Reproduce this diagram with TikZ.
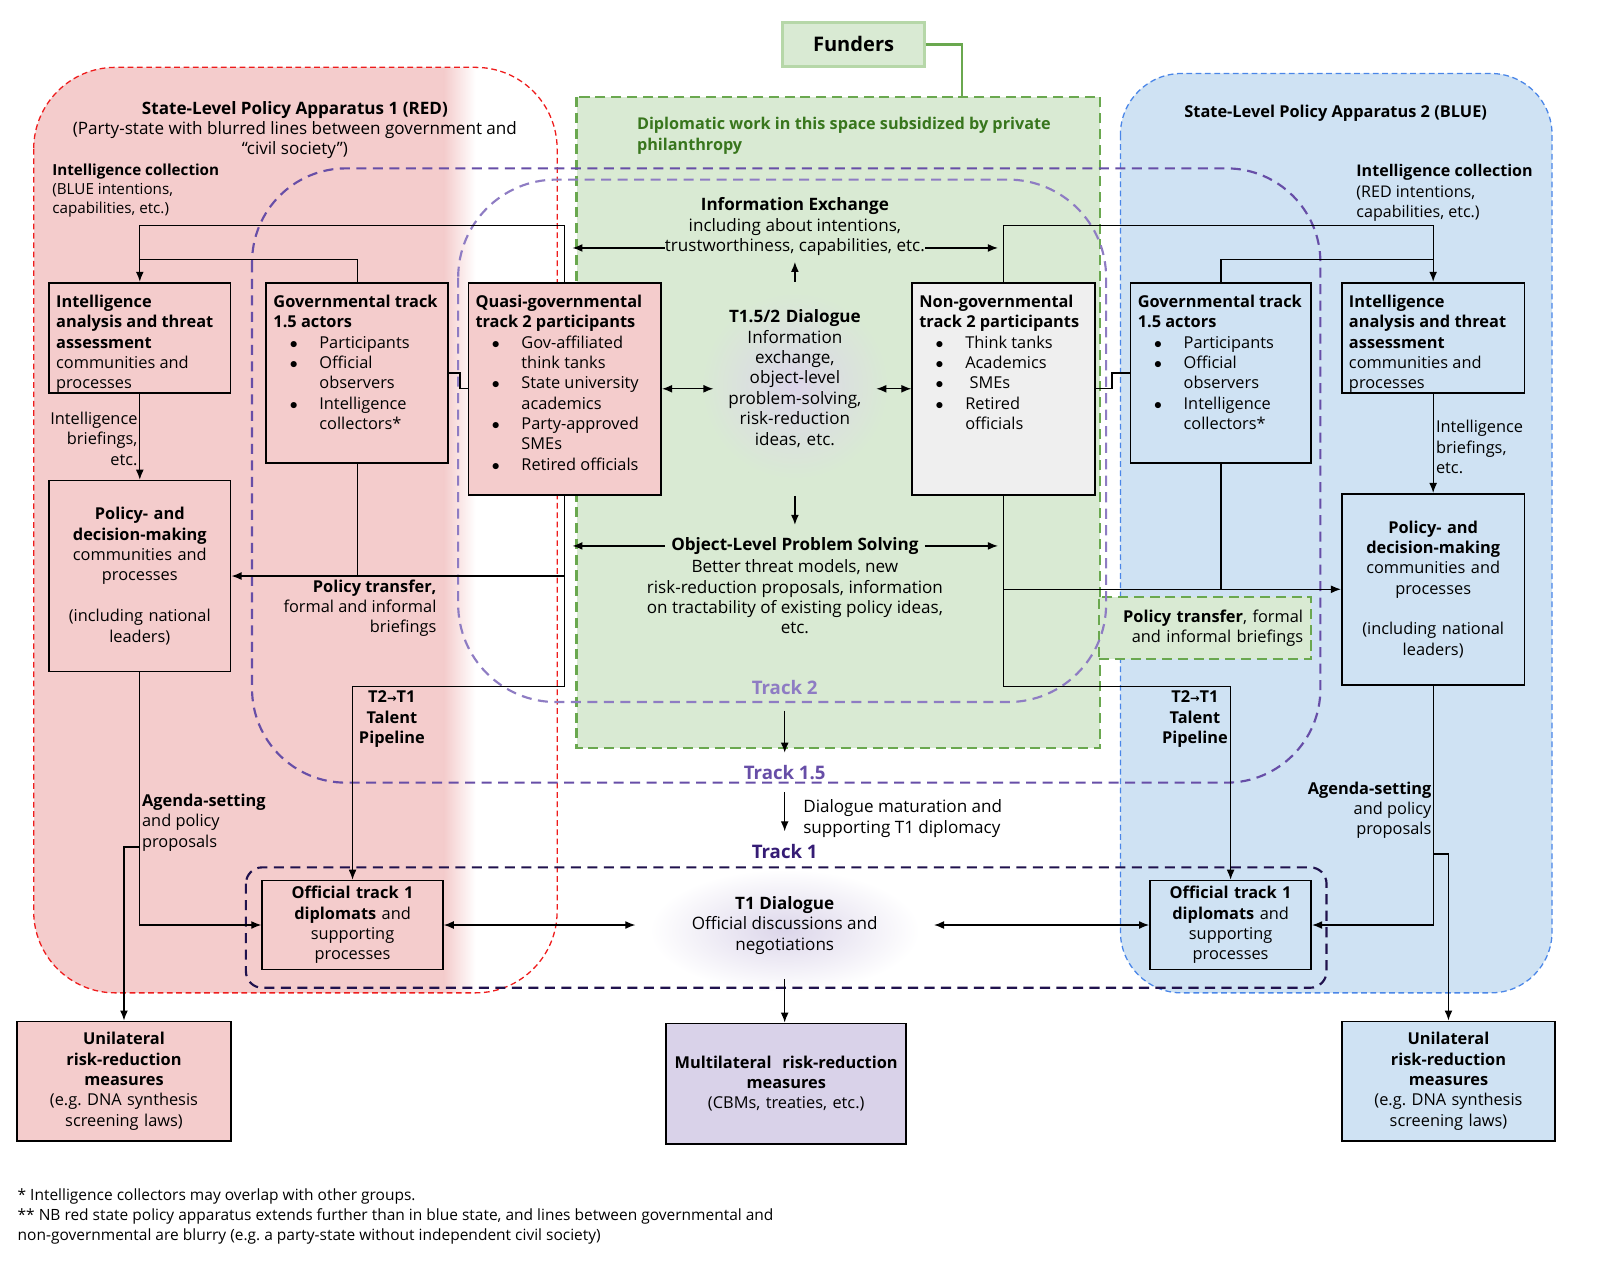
\documentclass[tikz,border=0pt]{standalone}
\usepackage{fontspec}
\setmainfont{Open Sans}
\newfontfamily\arrowfont{DejaVu Sans}
\usetikzlibrary{arrows.meta}

\definecolor{redfill}{HTML}{F4CCCC}
\definecolor{bluefill}{HTML}{CFE2F3}
\definecolor{greenfill}{HTML}{D9EAD3}
\definecolor{greenline}{HTML}{6AA84F}
\definecolor{greentext}{HTML}{38761D}
\definecolor{fundline}{HTML}{B6D7A8}
\definecolor{redline}{HTML}{EE1C1C}
\definecolor{blueline}{HTML}{4A86E8}
\definecolor{trackii}{HTML}{8E7CC3}
\definecolor{trackmid}{HTML}{674EA7}
\definecolor{tracki}{HTML}{20124D}
\definecolor{trackitext}{HTML}{351C75}
\definecolor{lavfill}{HTML}{D9D2E9}
\definecolor{ngfill}{HTML}{EFEFEF}
\definecolor{glow}{HTML}{DCD6EA}

\newlength\dpx
\setlength\dpx{0.025cm}
% top aligned box text
\newcommand{\boxbody}[3]{\parbox[c][#2\dpx][t]{#1\dpx}{\raggedright\parskip=0pt #3}}
\newcommand{\itm}{\par\noindent\llap{\makebox[29\dpx][l]{$\bullet$}}}
\newcommand{\blist}[1]{{\par\leftskip=45\dpx #1\par}}

\tikzset{
  tbox/.style={draw, line width=1.2pt, inner xsep=0.175cm, inner ysep=0.3cm},
  cbox/.style={draw, line width=1.2pt, inner xsep=0.2cm, align=center},
  conn/.style={line width=0.9pt},
  arr/.style={conn, -{Latex[length=7pt,width=5.5pt]}},
  darr/.style={conn, {Latex[length=7pt,width=5.5pt]}-{Latex[length=7pt,width=5.5pt]}},
  regionred/.style={draw=redline, line width=0.9pt, dash pattern=on 4pt off 2.5pt, rounded corners=2cm},
  regionblue/.style={draw=blueline, line width=0.9pt, dash pattern=on 4pt off 2.5pt, rounded corners=1.5cm},
  philbox/.style={draw=greenline, line width=1.5pt, dash pattern=on 7pt off 4pt},
  ptbox/.style={draw=greenline, fill=greenfill, line width=1.5pt, dash pattern=on 7pt off 4pt, inner xsep=0.2cm, align=right},
  trackline/.style={line width=1.5pt, dash pattern=on 7pt off 4.5pt},
  tracklab/.style={font=\fontsize{13}{15}\selectfont\bfseries},
  boldlab/.style={font=\fontsize{11.4}{14.2}\selectfont\bfseries, align=center},
  widetxt/.style={font=\fontsize{11.9}{14.2}\selectfont},
}

\begin{document}
\begin{tikzpicture}[x=0.025cm, y=-0.025cm, font=\fontsize{11.4}{14.2}\selectfont,
    every node/.append style={inner sep=0pt}]
  \useasboundingbox (0,0) rectangle (1568,1251);

  % Regions
  \begin{scope}
    \clip[rounded corners=2cm] (33,66) rectangle (546,973);
    \fill[redfill] (33,66) rectangle (435,973);
    \shade[left color=redfill, right color=white] (435,66) rectangle (466,973);
  \end{scope}
  \draw[regionred] (33,66) rectangle (546,973);
  \draw[regionblue, fill=bluefill] (1098,72) rectangle (1521,973);
  \draw[philbox, fill=greenfill] (565,95) rectangle (1078,733);

  \shade[inner color=glow, outer color=greenfill] (779,378) circle [radius=2.3cm];
  \shade[inner color=glow, outer color=white] (769,912) ellipse [x radius=3.3cm, y radius=1.5cm];

  \node[ptbox, text width=4.8cm, minimum height=1.525cm] (bpt) at (1181,615.5) {\textbf{Policy transfer}, formal\\and informal briefings};

  % Tracks
  \draw[trackline, draw=trackii, rounded corners=2.4cm] (449,176) rectangle (1084,688);
  \draw[trackline, draw=trackmid, rounded corners=2.3cm] (247,165) rectangle (1294,767);
  \draw[trackline, draw=tracki, rounded corners=0.4cm] (241,850) rectangle (1300,968);

  % Nodes
  \node[draw=fundline, line width=1.8pt, fill=greenfill, minimum width=3.475cm, minimum height=1.075cm,
    font=\fontsize{14}{16}\selectfont\bfseries] (funders) at (836.5,43.5) {Funders};

  \node[tbox, fill=redfill] (rintel) at (137,331) {\boxbody{164}{84}{\textbf{Intelligence\\analysis and threat\\assessment}\\communities and\\processes}};
  \node[tbox, fill=redfill] (rgov) at (350,365.5) {\boxbody{164}{153}{\textbf{Governmental track\\1.5 actors}\blist{\itm Participants\itm Official\\observers\itm Intelligence\\collectors*}}};
  \node[tbox, fill=redfill] (rquasi) at (553.5,381) {\boxbody{175}{184}{\textbf{Quasi-governmental\\track 2 participants}\blist{\itm Gov-affiliated\\think tanks\itm State university\\academics\itm Party-approved\\SMEs\itm Retired officials}}};
  \node[cbox, fill=redfill, text width=4.05cm, minimum height=4.675cm] (rpolicy) at (137,564.5) {\textbf{Policy- and\\decision-making}\\communities and\\processes\\[14.2pt](including national\\leaders)};
  \node[cbox, fill=redfill, text width=4.025cm, minimum height=2.175cm] (roff) at (345.5,906.5) {\textbf{Official track 1\\diplomats} and\\supporting\\processes};
  \node[cbox, fill=redfill, text width=4.825cm, minimum height=2.925cm] (runi) at (121.5,1059.5) {\textbf{Unilateral\\risk-reduction\\measures}\\(e.g.\ DNA synthesis\\screening laws)};

  \node[tbox, fill=ngfill] (nongov) at (983.5,381) {\boxbody{165}{184}{\textbf{Non-governmental\\track 2 participants}\blist{\itm Think tanks\itm Academics\itm\ SMEs\itm Retired\\officials}}};

  \node[tbox, fill=bluefill] (bgov) at (1196.5,365.5) {\boxbody{163}{153}{\textbf{Governmental track\\1.5 actors}\blist{\itm Participants\itm Official\\observers\itm Intelligence\\collectors*}}};
  \node[tbox, fill=bluefill] (bintel) at (1404.5,331) {\boxbody{165}{84}{\textbf{Intelligence\\analysis and threat\\assessment}\\communities and\\processes}};
  \node[cbox, fill=bluefill, text width=4.075cm, minimum height=4.675cm] (bpolicy) at (1404.5,577.5) {\textbf{Policy- and\\decision-making}\\communities and\\processes\\[14.2pt](including national\\leaders)};
  \node[cbox, fill=bluefill, text width=3.55cm, minimum height=2.175cm] (boff) at (1206,906.5) {\textbf{Official track 1\\diplomats} and\\supporting\\processes};
  \node[cbox, fill=bluefill, text width=4.825cm, minimum height=2.925cm] (buni) at (1419.5,1059.5) {\textbf{Unilateral\\risk-reduction\\measures}\\(e.g.\ DNA synthesis\\screening laws)};

  \node[cbox, fill=lavfill, inner xsep=0.1cm, text width=5.675cm, minimum height=2.95cm] (multi) at (770.5,1062) {\textbf{Multilateral~ risk-reduction\\measures}\\(CBMs, treaties, etc.)};

  % Centre texts
  \node[widetxt, align=center, inner ysep=0.15cm] (infox) at (779,222) {\textbf{Information Exchange}\\including about intentions,\\trustworthiness, capabilities, etc.};
  \node[widetxt, align=center, text width=3.625cm, inner sep=0.175cm] (dlg) at (779,371) {\textbf{T1.5/2 Dialogue}\\Information\\exchange,\\object-level\\problem-solving,\\risk-reduction\\ideas, etc.};
  \node[widetxt, inner xsep=0.15cm, inner ysep=0.3cm] (objt) at (779,535) {\textbf{Object-Level Problem Solving}};
  \node[widetxt, align=center] (objb) at (779,585) {Better threat models, new\\risk-reduction proposals, information\\on tractability of existing policy ideas,\\etc.};
  \node[widetxt, align=center, minimum width=7.3cm, minimum height=2.6cm] (t1d) at (769,907) {\textbf{T1 Dialogue}\\Official discussions and\\negotiations};

  \node[tracklab, text=trackii, inner ysep=0.38cm] (t2lab) at (769,674) {Track 2};
  \node[tracklab, text=trackmid, inner ysep=0.3cm] (t15lab) at (769,757) {Track 1.5};
  \node[tracklab, text=trackitext, inner ysep=0.3cm] (t1lab) at (769,834) {Track 1};
  \node[widetxt, align=left, anchor=west] (dmat) at (787,802) {Dialogue maturation and\\supporting T1 diplomacy};

  % Labels
  \node[widetxt, align=center] (rtitle) at (289,127.5) {\textbf{State-Level Policy Apparatus 1 (RED)}\\(Party-state with blurred lines between government and\\“civil society”)};
  \node[font=\fontsize{11.4}{14.2}\selectfont\bfseries] (btitle) at (1309,111) {State-Level Policy Apparatus 2 (BLUE)};
  \node[align=left, anchor=west, font=\fontsize{10.6}{13.1}\selectfont] (rcoll) at (51,187) {\textbf{Intelligence collection}\\(BLUE intentions,\\capabilities, etc.)};
  \node[align=left, anchor=west, font=\fontsize{11.2}{14.2}\selectfont] (bcoll) at (1329,189) {\textbf{Intelligence collection}\\(RED intentions,\\capabilities, etc.)};
  \node[align=left, anchor=west, text=greentext, font=\fontsize{11.3}{14.2}\selectfont\bfseries] (philtxt) at (624,133) {Diplomatic work in this space subsidized by private\\philanthropy};

  \node[align=right, anchor=east] (rbrief) at (135,430) {Intelligence\\briefings,\\etc.};
  \node[align=right, anchor=east] (rptl) at (428,596) {\textbf{Policy transfer,}\\formal and informal\\briefings};
  \node[boldlab] (rtal) at (384,705) {T2{\arrowfont\fontsize{8}{8}\selectfont →}T1\\Talent\\Pipeline};
  \node[align=left, anchor=west] (ragd) at (139,806) {\textbf{Agenda-setting}\\and policy\\proposals};

  \node[align=left, anchor=west] (bbrief) at (1407,438) {Intelligence\\briefings,\\etc.};
  \node[boldlab] (btal) at (1171,705) {T2{\arrowfont\fontsize{8}{8}\selectfont →}T1\\Talent\\Pipeline};
  \node[align=right, anchor=east] (bagd) at (1403,794) {\textbf{Agenda-setting}\\and policy\\proposals};

  \node[align=left, anchor=west, font=\fontsize{10.8}{13.9}\selectfont] (fnote) at (17,1192) {* Intelligence collectors may overlap with other groups.\\** NB red state policy apparatus extends further than in blue state, and lines between governmental and\\non-governmental are blurry (e.g.\ a party-state without independent civil society)};

  % Edges
  \coordinate (ltop) at (0,221);
  \coordinate (lmid) at (0,254);
  \coordinate (lbot) at (0,673);
  \coordinate (ragdy) at (137,830);
  \coordinate (bagdy) at (1404.5,837);
  \coordinate (ixl) at (561,243);
  \coordinate (ixr) at (978,243);
  \coordinate (oxl) at (561,535);
  \coordinate (oxr) at (978,535);
  \coordinate (fundin) at (943,95);

  \draw[greenline, line width=1.6pt] (funders.east) -| (fundin);

  \draw[arr] (rquasi.north) -- (rquasi.north |- ltop) -| (rintel.north);
  \draw[conn] (rgov.north) |- (rintel.north |- lmid);
  \draw[arr] (rintel.south) -- (rpolicy.north);
  \draw[arr] (rquasi.south) -- (rquasi.south |- lbot) -| (roff.north);
  \draw[arr] (rquasi.south |- rpolicy.east) -- (rpolicy.east);
  \draw[conn] (rgov.south) -- (rgov.south |- rpolicy.east);
  \draw[arr] (rpolicy.south) |- (roff.west);
  \draw[arr] (ragdy) -| (runi.north);
  \draw[conn] (rgov.east) -- ++(11,0) |- (rquasi.west);
  \draw[darr] (rquasi.east) -- (rquasi.east -| dlg.west);
  \draw[darr] (roff.east) -- (roff.east -| t1d.west);

  \draw[arr] (nongov.north) -- (nongov.north |- ltop) -| (bintel.north);
  \draw[conn] (bgov.north) |- (bintel.north |- lmid);
  \draw[arr] (bintel.south) -- (bpolicy.north);
  \draw[arr] (nongov.south) -- (nongov.south |- lbot) -| (boff.north);
  \draw[arr] (nongov.south |- bpolicy.west) -- (bpolicy.west);
  \draw[conn] (bgov.south) -- (bgov.south |- bpolicy.west);
  \draw[arr] (bpolicy.south) |- (boff.east);
  \draw[arr] (bagdy) -| (buni.north);
  \draw[conn] (nongov.east) -- ++(16,0) |- (bgov.west);
  \draw[darr] (nongov.west) -- (nongov.west -| dlg.east);
  \draw[darr] (boff.west) -- (boff.west -| t1d.east);

  \draw[arr] (infox.west |- ixl) -- (ixl);
  \draw[arr] (infox.east |- ixr) -- (ixr);
  \draw[arr] (dlg |- rquasi.north) -- (infox.south);
  \draw[arr] (dlg |- rquasi.south) -- (objt.north);
  \draw[arr] (objt.west) -- (oxl);
  \draw[arr] (objt.east) -- (oxr);
  \draw[arr] (t2lab.south) -- (t15lab.north);
  \draw[arr] (t15lab.south) -- (t1lab.north);
  \draw[arr] (t1d.south) -- (t1d.south |- multi.north);
\end{tikzpicture}
\end{document}
